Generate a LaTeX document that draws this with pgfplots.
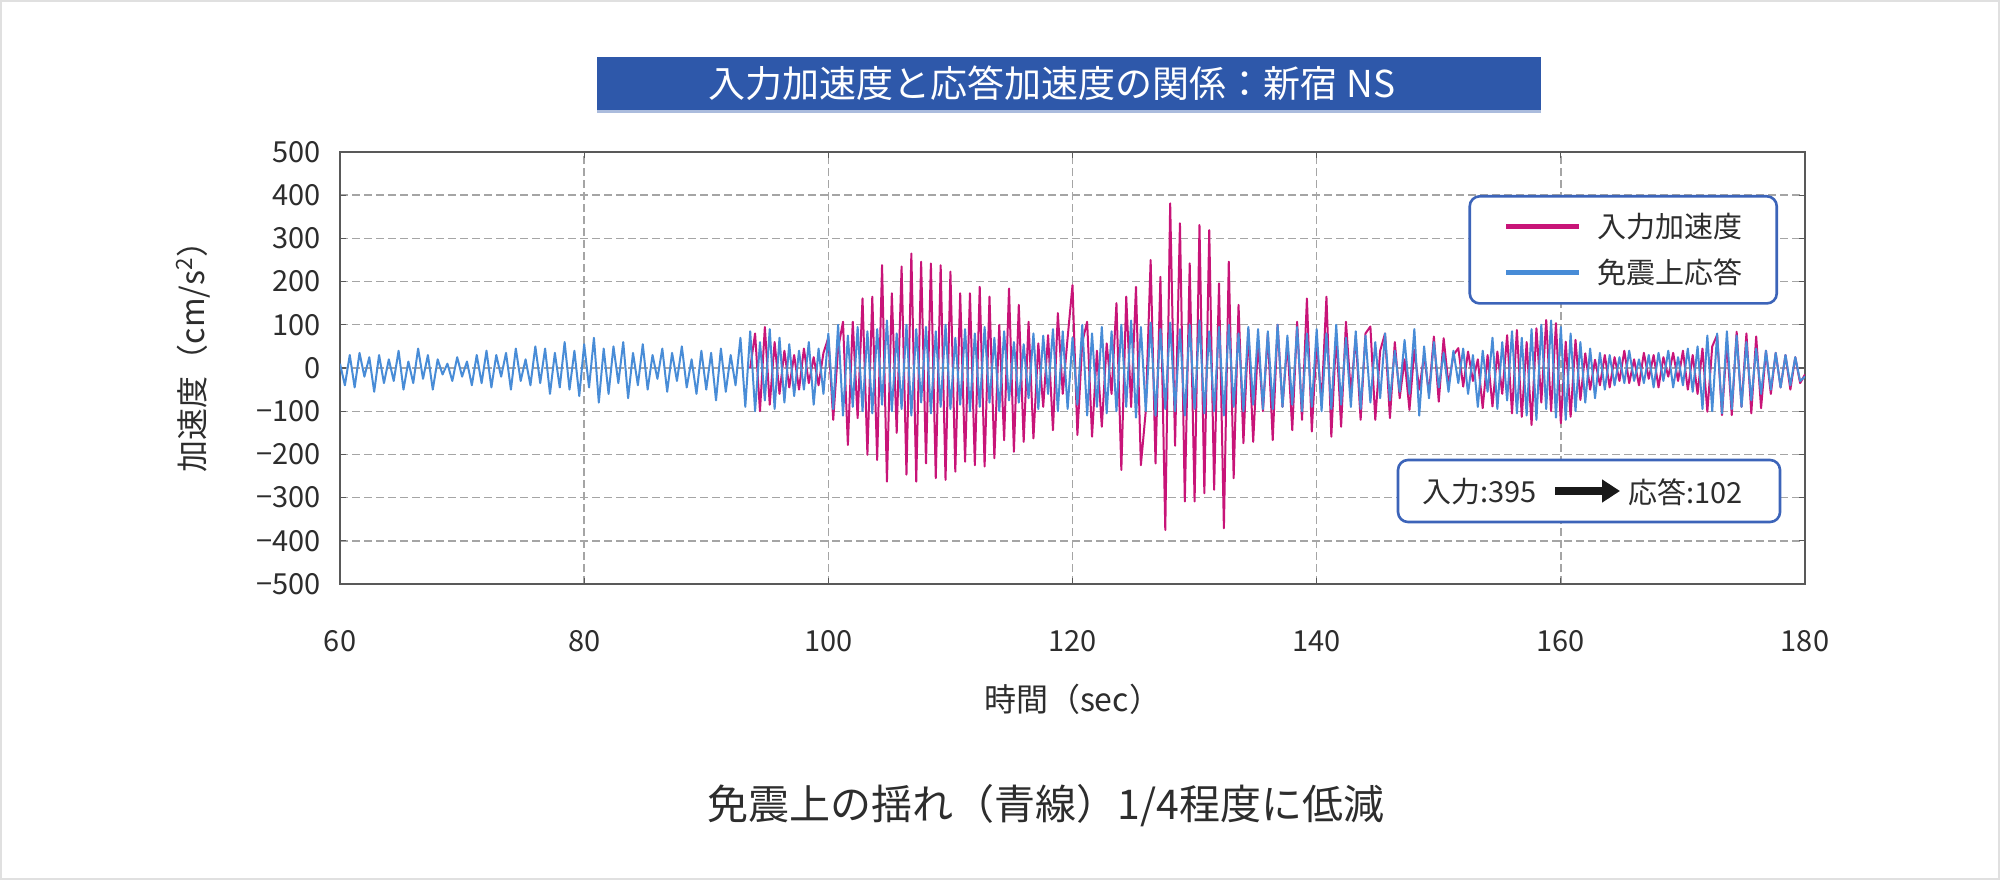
\documentclass[border=0pt]{standalone}
\usepackage{fontspec}
\setmainfont{Noto Sans CJK JP}
\usepackage{pgfplots}
\pgfplotsset{compat=1.18}
\usetikzlibrary{arrows.meta}
\definecolor{magline}{RGB}{200,20,120}
\definecolor{blueline}{RGB}{72,140,215}
\definecolor{legblue}{RGB}{60,100,185}
\definecolor{titleblue}{RGB}{46,88,170}
\definecolor{gridgray}{RGB}{165,165,165}
\definecolor{txt}{RGB}{45,45,45}
\begin{document}
\begin{tikzpicture}
\useasboundingbox (0,0) rectangle (1000pt,440pt);
\fill[white] (0,0) rectangle (1000pt,440pt);
\draw[black!12, line width=1pt] (0.5pt,0.5pt) rectangle (999.5pt,439.5pt);
\fill[titleblue] (298.5pt,385pt) rectangle (770.5pt,411.5pt);
\fill[titleblue!40] (298.5pt,383.5pt) rectangle (770.5pt,385pt);
\node[text=white, font=\fontsize{18.5}{18.5}\selectfont] at (526pt,398.2pt) {入力加速度と応答加速度の関係：新宿 NS};
\begin{axis}[
  at={(170pt,148pt)}, anchor=south west, scale only axis,
  width=732.5pt, height=216pt,
  xmin=60, xmax=180, ymin=-500, ymax=500,
  xtick={60,80,...,180}, ytick={-500,-400,...,500},
  yticklabels={−500,−400,−300,−200,−100,0,100,200,300,400,500},
  grid=major,
  major grid style={draw=gridgray, dash pattern=on 4pt off 2pt, line width=0.7pt},
  axis line style={draw=black!65, line width=0.8pt},
  tick style={draw=black!65, line width=0.6pt}, tick align=inside, major tick length=3pt,
  ticklabel style={font=\fontsize{14.5}{14.5}\selectfont, text=txt},
  /pgf/number format/assume math mode=true,
  /pgf/number format/1000 sep={},
  xticklabel style={yshift=-19.5pt},
  yticklabel style={xshift=-6pt},
  xlabel={時間（sec）}, ylabel={加速度（cm/s\textsuperscript{2}）},
  label style={font=\fontsize{16}{16}\selectfont, text=txt},
  xlabel style={at={(axis description cs:0.5,-0.266)}, anchor=center},
  ylabel style={at={(axis description cs:-0.1003,0.545)}, anchor=center},
  legend style={at={(0.9816,0.9005)}, anchor=north east, draw=legblue, line width=1.3pt,
    rounded corners=5pt, fill=white, inner xsep=17pt, inner ysep=8.5pt, row sep=9pt,
    font=\fontsize{14.5}{14.5}\selectfont, text=txt, nodes={inner sep=0pt},
    /tikz/every odd column/.append style={column sep=8pt}},
  legend cell align=left,
  legend image code/.code={\draw[#1, line width=2.5pt, sharp corners] (0pt,0pt) -- (36.5pt,0pt);},
]
\addplot[magline, line width=1pt, line join=round] coordinates {
(93.6,0)(94,80)(94.4,-100)(94.8,95)(95.2,-85)(95.6,60)
(96,-60)(96.4,40)(96.8,-45)(97.2,30)(97.6,-50)(98,45)(98.4,-35)(98.8,25)(99.2,-40)(99.6,35)
(100,70)(100.4,-120)(100.8,45)(101.2,107)(101.6,-178)(102,107)(102.4,-116)(102.8,161)(103.2,-201)(103.6,165)
(104,-213)(104.4,238)(104.8,-263)(105.2,173)(105.6,-150)(106,235)(106.4,-247)(106.8,265)(107.2,-263)(107.6,246)
(108,-221)(108.4,242)(108.8,-255)(109.2,238)(109.6,-259)(110,223)(110.4,-240)(110.8,173)(111.2,-217)(111.6,173)
(112,-225)(112.4,188)(112.8,-228)(113.2,165)(113.6,-209)(114,100)(114.4,-167)(114.8,184)(115.2,-194)(115.6,146)
(116,-171)(116.4,107)(116.8,-163)(117.2,57)(117.6,-90)(118,76)(118.4,-144)(118.8,127)(119.2,-60)(119.6,70)
(120,192)(120.4,-155)(120.8,60)(121.2,107)(121.6,-159)(122,40)(122.4,-136)(122.8,57)(123.2,-60)(123.6,150)
(124,-236)(124.4,165)(124.8,-90)(125.2,188)(125.6,-225)(126,-100)(126.4,250)(126.8,-221)(127.2,211)(127.6,-375)
(128,381)(128.4,-180)(128.8,335)(129.2,-309)(129.6,242)(130,-309)(130.4,331)(130.8,-290)(131.2,319)(131.6,-282)
(132,196)(132.4,-371)(132.8,246)(133.2,-255)(133.6,146)(134,-174)(134.4,90)(134.8,-171)(135.2,60)(135.6,-100)
(136,80)(136.4,-167)(136.8,100)(137.2,-90)(137.6,60)(138,-144)(138.4,107)(138.8,-120)(139.2,161)(139.6,-147)
(140,60)(140.4,-80)(140.8,165)(141.2,-159)(141.6,80)(142,-136)(142.4,107)(142.8,-60)(143.2,73)(143.6,-120)
(144,80)(144.4,96)(144.8,-120)(145.2,40)(145.6,80)(146,-116)(146.4,60)(146.8,-70)(147.2,20)(147.6,-97)
(148,42)(148.4,-50)(148.8,30)(149.2,-60)(149.6,73)(150,-78)(150.4,69)(150.8,-40)(151.2,30)(151.6,46)
(152,-43)(152.4,38)(152.8,-30)(153.2,20)(153.6,-93)(154,30)(154.4,-89)(154.8,38)(155.2,-60)(155.6,76)
(156,-105)(156.4,88)(156.8,-113)(157.2,60)(157.6,-132)(158,92)(158.4,-80)(158.8,111)(159.2,-100)(159.6,104)
(160,-128)(160.4,61)(160.8,-113)(161.2,65)(161.6,-74)(162,34)(162.4,-50)(162.8,19)(163.2,-40)(163.6,30)
(164,-45)(164.4,25)(164.8,-30)(165.2,40)(165.6,-35)(166,20)(166.4,-40)(166.8,35)(167.2,-25)(167.6,30)
(168,-45)(168.4,25)(168.8,-20)(169.2,35)(169.6,-30)(170,40)(170.4,-50)(170.8,30)(171.2,-60)(171.6,45)
(172,-101)(172.4,50)(172.8,76)(173.2,-109)(173.6,60)(174,-109)(174.4,84)(174.8,-90)(175.2,80)(175.6,-105)
(176,73)(176.4,-93)(176.8,40)(177.2,-60)(177.6,35)(178,-45)(178.4,30)(178.8,-50)(179.2,25)(179.6,-35)(180,-15)
};
\addlegendentry{入力加速度}
\addplot[blueline, line width=1pt, line join=round] coordinates {
(60,10)(60.4,-40)(60.8,30)(61.2,-45)(61.6,35)(62,-20)(62.4,25)(62.8,-55)(63.2,30)(63.6,-35)
(64,20)(64.4,-30)(64.8,40)(65.2,-50)(65.6,15)(66,-35)(66.4,45)(66.8,-25)(67.2,30)(67.6,-50)
(68,20)(68.4,-15)(68.8,10)(69.2,-30)(69.6,25)(70,-20)(70.4,15)(70.8,-40)(71.2,30)(71.6,-35)
(72,40)(72.4,-45)(72.8,30)(73.2,-20)(73.6,35)(74,-50)(74.4,45)(74.8,-30)(75.2,20)(75.6,-40)
(76,50)(76.4,-35)(76.8,45)(77.2,-60)(77.6,35)(78,-45)(78.4,60)(78.8,-50)(79.2,40)(79.6,-65)
(80,55)(80.4,-45)(80.8,70)(81.2,-80)(81.6,45)(82,-60)(82.4,50)(82.8,-35)(83.2,60)(83.6,-70)
(84,35)(84.4,-40)(84.8,55)(85.2,-50)(85.6,30)(86,-25)(86.4,45)(86.8,-55)(87.2,35)(87.6,-30)
(88,50)(88.4,-45)(88.8,20)(89.2,-60)(89.6,40)(90,-50)(90.4,35)(90.8,-75)(91.2,45)(91.6,-55)
(92,30)(92.4,-40)(92.8,70)(93.2,-90)(93.6,85)(94,-100)(94.4,60)(94.8,-75)(95.2,90)(95.6,-95)
(96,70)(96.4,-80)(96.8,55)(97.2,-65)(97.6,40)(98,-50)(98.4,60)(98.8,-85)(99.2,45)(99.6,-60)
(100,80)(100.4,-95)(100.8,100)(101.2,-110)(101.6,75)(102,-90)(102.4,95)(102.8,-100)(103.2,85)(103.6,-105)
(104,90)(104.4,-85)(104.8,110)(105.2,-100)(105.6,80)(106,-95)(106.4,100)(106.8,-110)(107.2,90)(107.6,-80)
(108,95)(108.4,-105)(108.8,85)(109.2,-90)(109.6,100)(110,-95)(110.4,70)(110.8,-85)(111.2,90)(111.6,-100)
(112,80)(112.4,-90)(112.8,95)(113.2,-80)(113.6,70)(114,-100)(114.4,85)(114.8,-75)(115.2,60)(115.6,-80)
(116,55)(116.4,-70)(116.8,80)(117.2,-95)(117.6,75)(118,-60)(118.4,90)(118.8,-100)(119.2,85)(119.6,-95)
(120,70)(120.4,-85)(120.8,100)(121.2,-110)(121.6,80)(122,-90)(122.4,95)(122.8,-105)(123.2,85)(123.6,-100)
(124,100)(124.4,-90)(124.8,110)(125.2,-115)(125.6,95)(126,-100)(126.4,105)(126.8,-110)(127.2,90)(127.6,-95)
(128,105)(128.4,-100)(128.8,90)(129.2,-110)(129.6,100)(130,-95)(130.4,110)(130.8,-105)(131.2,85)(131.6,-100)
(132,95)(132.4,-110)(132.8,100)(133.2,-90)(133.6,80)(134,-100)(134.4,95)(134.8,-85)(135.2,90)(135.6,-95)
(136,85)(136.4,-95)(136.8,100)(137.2,-90)(137.6,75)(138,-85)(138.4,95)(138.8,-100)(139.2,80)(139.6,-90)
(140,90)(140.4,-100)(140.8,80)(141.2,-95)(141.6,100)(142,-85)(142.4,70)(142.8,-90)(143.2,85)(143.6,-95)
(144,75)(144.4,-80)(144.8,60)(145.2,-70)(145.6,80)(146,-75)(146.4,40)(146.8,-55)(147.2,65)(147.6,-60)
(148,90)(148.4,-110)(148.8,50)(149.2,-70)(149.6,60)(150,-45)(150.4,35)(150.8,-55)(151.2,40)(151.6,-35)
(152,45)(152.4,-60)(152.8,30)(153.2,-90)(153.6,40)(154,-55)(154.4,70)(154.8,-95)(155.2,60)(155.6,-75)
(156,85)(156.4,-105)(156.8,70)(157.2,-110)(157.6,90)(158,-120)(158.4,100)(158.8,-95)(159.2,110)(159.6,-115)
(160,95)(160.4,-120)(160.8,80)(161.2,-100)(161.6,60)(162,-80)(162.4,45)(162.8,-70)(163.2,35)(163.6,-50)
(164,30)(164.4,-40)(164.8,25)(165.2,-35)(165.6,40)(166,-30)(166.4,20)(166.8,-35)(167.2,30)(167.6,-45)
(168,35)(168.4,-30)(168.8,40)(169.2,-45)(169.6,25)(170,-40)(170.4,45)(170.8,-55)(171.2,50)(171.6,-95)
(172,75)(172.4,-100)(172.8,80)(173.2,-105)(173.6,85)(174,-95)(174.4,75)(174.8,-90)(175.2,60)(175.6,-75)
(176,45)(176.4,-60)(176.8,40)(177.2,-50)(177.6,35)(178,-45)(178.4,30)(178.8,-40)(179.2,25)(179.6,-30)(180,-20)
};
\addlegendentry{免震上応答}
\end{axis}
% annotation box
\draw[draw=legblue, fill=white, line width=1.3pt, rounded corners=5pt] (699pt,179pt) rectangle (890pt,210pt);
\node[font=\fontsize{14.5}{14.5}\selectfont, text=txt, anchor=west, inner sep=0pt] at (711pt,194pt) {入力:395};
\draw[draw=black!90, line width=4pt, -{Triangle[length=9pt,width=11pt]}] (777.5pt,194.5pt) -- (810pt,194.5pt);
\node[font=\fontsize{14.5}{14.5}\selectfont, text=txt, anchor=west, inner sep=0pt] at (814pt,194pt) {応答:102};
\node[font=\fontsize{20.5}{20.5}\selectfont, text=txt] at (523pt,37pt) {免震上の揺れ（青線）1/4程度に低減};
\end{tikzpicture}
\end{document}
